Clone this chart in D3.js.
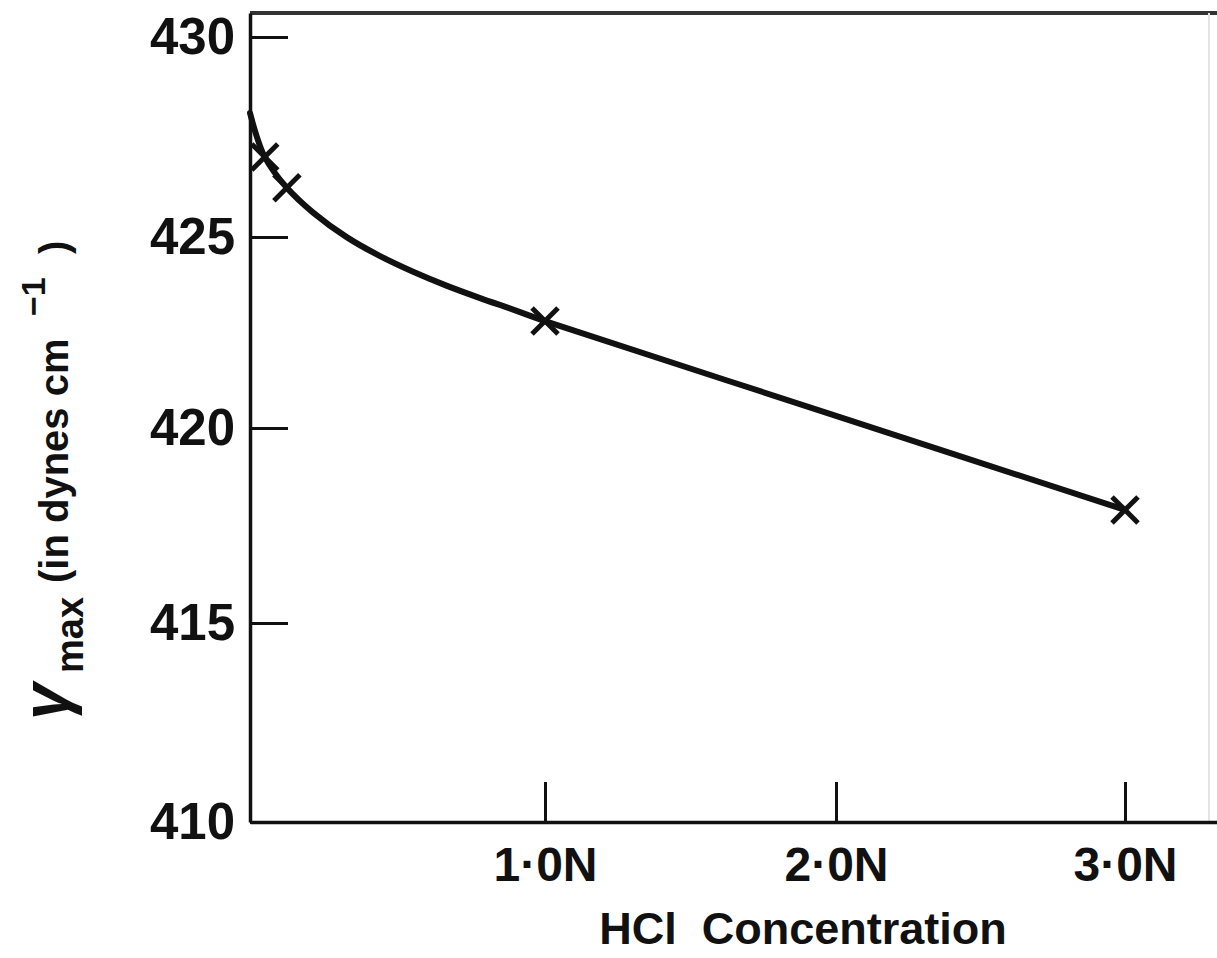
<!DOCTYPE html>
<html>
<head>
<meta charset="utf-8">
<script src="https://cdn.jsdelivr.net/npm/d3@7"></script>
<style>
  html, body { margin: 0; padding: 0; background: #fff; }
  svg { display: block; }
  text { font-family: "Liberation Sans", Arial, sans-serif; font-weight: bold; fill: #111; }
</style>
</head>
<body>
<svg id="chart" width="1217" height="958"></svg>
<script>
// ---- data ----
const xTickValues = [1, 2, 3];
const xTickLabels = ["1·0N", "2·0N", "3·0N"];
const yTickValues = [410, 415, 420, 425, 430];
const yTickLabels = ["410", "415", "420", "425", "430"];

// measured points (crosses)
const pointX = [0.05, 0.125, 1.0, 3.0];
const pointY = [427.0, 426.23, 422.8, 417.9];

// smooth curve drawn through the points
const curveX = [0, 0.05, 0.125, 0.214, 0.329, 0.441, 0.553, 0.668, 0.78, 0.892, 1.0, 2.0, 3.0];
const curveY = [428.1, 427.0, 426.23, 425.61, 424.99, 424.5, 424.09, 423.72, 423.4, 423.1, 422.8, 420.32, 417.9];

// ---- scales ----
const x = d3.scaleLinear().domain([0, 1, 2, 3, 3.32]).range([250, 545, 836, 1125, 1217]);
const y = d3.scaleLinear().domain([410, 415, 420, 425, 430, 430.6]).range([822, 623, 428, 237, 37, 13]);

const svg = d3.select("#chart");

// top border and faint right border
svg.append("line").attr("x1", 250).attr("x2", 1217).attr("y1", y(430.6)).attr("y2", y(430.6))
  .attr("stroke", "#333").attr("stroke-width", 4);
svg.append("line").attr("x1", 1209).attr("x2", 1209).attr("y1", y(430.6)).attr("y2", y(410))
  .attr("stroke", "#e4e4e4").attr("stroke-width", 2);

// axes
const yAxis = d3.axisLeft(y).tickValues(yTickValues)
  .tickFormat((d, i) => yTickLabels[i]).tickSizeInner(-38).tickSizeOuter(0).tickPadding(15);
const gy = svg.append("g").attr("transform", `translate(${x(0)},0)`).call(yAxis);
gy.select(".domain").attr("stroke", "#111").attr("stroke-width", 3.5);
gy.selectAll(".tick line").attr("stroke", "#111").attr("stroke-width", 3);
gy.selectAll(".tick text").style("font-size", "51px").attr("fill", "#111");

const xAxis = d3.axisBottom(x).tickValues(xTickValues)
  .tickFormat((d, i) => xTickLabels[i]).tickSizeInner(-40).tickSizeOuter(0).tickPadding(25);
const gx = svg.append("g").attr("transform", `translate(0,${y(410)})`).call(xAxis);
gx.select(".domain").attr("stroke", "#111").attr("stroke-width", 3.5);
gx.selectAll(".tick line").attr("stroke", "#111").attr("stroke-width", 3);
gx.selectAll(".tick text").style("font-size", "48px").attr("fill", "#111");

// curve
const curveData = curveX.map((d, i) => [d, curveY[i]]);
const line = d3.line().x(d => x(d[0])).y(d => y(d[1])).curve(d3.curveCatmullRom.alpha(0.5));
svg.append("path").datum(curveData).attr("d", line)
  .attr("fill", "none").attr("stroke", "#111").attr("stroke-width", 6)
  .attr("stroke-linecap", "round").attr("stroke-linejoin", "round");

// crosses
const s = 13;
const pts = pointX.map((d, i) => [d, pointY[i]]);
const cross = svg.append("g").selectAll("g").data(pts).join("g")
  .attr("transform", d => `translate(${x(d[0])},${y(d[1])})`);
cross.append("line").attr("x1", -s).attr("y1", -s).attr("x2", s).attr("y2", s)
  .attr("stroke", "#111").attr("stroke-width", 5);
cross.append("line").attr("x1", -s).attr("y1", s).attr("x2", s).attr("y2", -s)
  .attr("stroke", "#111").attr("stroke-width", 5);

// x title
svg.append("text").attr("x", 803).attr("y", 944).attr("text-anchor", "middle")
  .style("font-size", "45px").style("white-space", "pre").text("HCl  Concentration");

// y title (rotated)
const yt = svg.append("g").attr("transform", "rotate(-90)");
yt.append("text").attr("x", -720).attr("y", 68).style("font-size", "66px").style("font-style", "italic").text("γ");
yt.append("text").attr("x", -673).attr("y", 83).style("font-size", "38px").text("max");
yt.append("text").attr("x", -583).attr("y", 68).style("font-size", "40px").text("(in dynes cm");
yt.append("text").attr("x", -316).attr("y", 45).style("font-size", "34px").text("−1");
yt.append("text").attr("x", -254).attr("y", 68).style("font-size", "40px").text(")");
</script>
</body>
</html>
